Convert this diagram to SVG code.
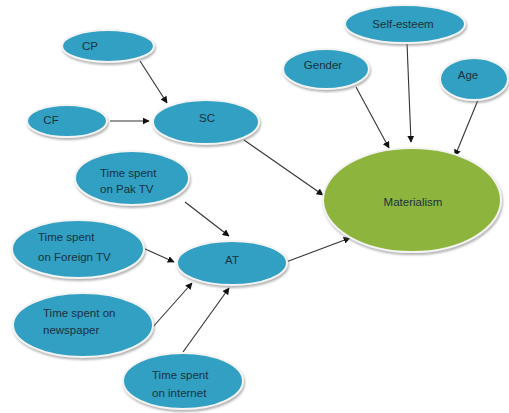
<svg xmlns="http://www.w3.org/2000/svg" width="509" height="413" viewBox="0 0 509 413">
<defs>
<filter id="sh" x="-20%" y="-20%" width="140%" height="150%">
<feDropShadow dx="1" dy="2" stdDeviation="1.2" flood-color="#808080" flood-opacity="0.6"/>
</filter>
<marker id="ar" viewBox="0 0 10 10" refX="9" refY="5" markerWidth="7" markerHeight="7" markerUnits="userSpaceOnUse" orient="auto">
<path d="M0,0 L10,5 L0,10 z" fill="#111"/>
</marker>
</defs>
<style>
.b{fill:#33a0c2;stroke:#f4f4f4;stroke-width:2;filter:url(#sh)}
.g{fill:#8db53c;stroke:#f4f4f4;stroke-width:2;filter:url(#sh)}
text{font-family:"Liberation Sans",Arial,sans-serif;font-size:11.5px;fill:#1b3040}
.c line{stroke:#333;stroke-width:1.1;marker-end:url(#ar)}
</style>
<rect width="509" height="413" fill="#fff"/>
<g class="c" id="connectors">
<line x1="140" y1="61" x2="167" y2="103"/>
<line x1="110" y1="121" x2="149" y2="121"/>
<line x1="244" y1="140" x2="323" y2="195"/>
<line x1="356" y1="87" x2="389" y2="148"/>
<line x1="407" y1="43" x2="411" y2="142"/>
<line x1="478" y1="100" x2="455" y2="156"/>
<line x1="185" y1="202" x2="229" y2="236"/>
<line x1="143" y1="248" x2="174" y2="262"/>
<line x1="152" y1="328" x2="192" y2="283"/>
<line x1="183" y1="352" x2="229" y2="288"/>
<line x1="286" y1="262" x2="350" y2="238"/>
</g>
<g id="CP"><ellipse class="b" cx="108" cy="46" rx="46" ry="16"/><text x="90" y="50" text-anchor="middle">CP</text></g>
<g id="CF"><ellipse class="b" cx="67" cy="121" rx="40" ry="16"/><text x="51" y="124" text-anchor="middle">CF</text></g>
<g id="SC"><ellipse class="b" cx="206" cy="122" rx="53" ry="22"/><text x="207" y="122" text-anchor="middle">SC</text></g>
<g id="PakTV"><ellipse class="b" cx="132" cy="178" rx="57" ry="27"/><text x="100" y="177">Time spent</text><text x="100" y="193">on Pak TV</text></g>
<g id="ForeignTV"><ellipse class="b" cx="78" cy="249" rx="66" ry="29"/><text x="38" y="241">Time spent</text><text x="38" y="261">on Foreign TV</text></g>
<g id="Newspaper"><ellipse class="b" cx="83" cy="325" rx="70" ry="32"/><text x="43" y="317">Time spent on</text><text x="43" y="334">newspaper</text></g>
<g id="Internet"><ellipse class="b" cx="183" cy="381" rx="60" ry="28"/><text x="152" y="379">Time spent</text><text x="152" y="397">on internet</text></g>
<g id="AT"><ellipse class="b" cx="232" cy="263" rx="55" ry="22"/><text x="232" y="264" text-anchor="middle">AT</text></g>
<g id="Gender"><ellipse class="b" cx="326" cy="69" rx="43" ry="20"/><text x="323" y="69" text-anchor="middle">Gender</text></g>
<g id="SelfEsteem"><ellipse class="b" cx="405" cy="24" rx="60" ry="19"/><text x="403" y="28" text-anchor="middle">Self-esteem</text></g>
<g id="Age"><ellipse class="b" cx="474" cy="79" rx="34" ry="21"/><text x="468" y="79" text-anchor="middle">Age</text></g>
<g id="Materialism"><ellipse class="g" cx="412" cy="200" rx="89" ry="52"/><text x="413" y="206" text-anchor="middle">Materialism</text></g>
</svg>
